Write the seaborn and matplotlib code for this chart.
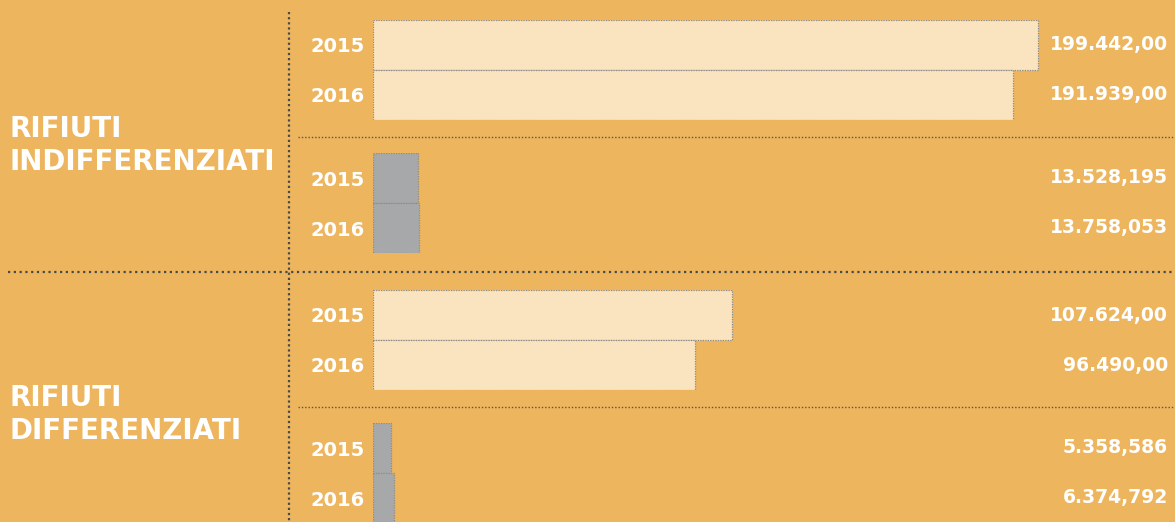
import matplotlib
matplotlib.use("Agg")
import matplotlib.pyplot as plt
import matplotlib.transforms as mtransforms
from matplotlib.lines import Line2D
import seaborn as sns
import pandas as pd

# ---- data -------------------------------------------------------------
years = ["2015", "2016"]
indiff_total = [199442.00, 191939.00]
indiff_other = [13528.195, 13758.053]
diff_total = [107624.00, 96490.00]
diff_other = [5358.586, 6374.792]
section_titles = ["RIFIUTI\nINDIFFERENZIATI", "RIFIUTI\nDIFFERENZIATI"]

# ---- style ------------------------------------------------------------
BG = "#EDB55D"
CREAM = "#FAE4C0"
GREY = "#A6A8A9"
DOT = "#4A4A4A"
W, H = 1175, 522

sns.set_theme(style="white")
plt.rcParams["font.family"] = ["DejaVu Sans"]

fig = plt.figure(figsize=(W / 100, H / 100), dpi=100, facecolor=BG)


def fx(px):
    return px / W


def fy(py):
    return 1 - py / H


def it_number(v, dec):
    s = f"{v:,.{dec}f}"
    return s.replace(",", "X").replace(".", ",").replace("X", ".")


XMAX = 240500
groups = [
    (indiff_total, CREAM, 2, 20),
    (indiff_other, GREY, 3, 153),
    (diff_total, CREAM, 2, 290),
    (diff_other, GREY, 3, 423),
]

for values, color, dec, top in groups:
    ax = fig.add_axes([fx(373), fy(top + 100), fx(W) - fx(373), 100 / H])
    ax.set_facecolor("none")
    df = pd.DataFrame({"anno": years, "valore": values})
    sns.barplot(data=df, x="valore", y="anno", order=years, orient="h",
                color=color, width=1.0, saturation=1, ax=ax,
                edgecolor="#8C8C8C", linewidth=0.9, linestyle=(0, (1, 1)))
    ax.set_xlim(0, XMAX)
    ax.set_ylim(1.5, -0.5)
    for s in ax.spines.values():
        s.set_visible(False)
    ax.set_xticks([])
    ax.set_xlabel("")
    ax.set_ylabel("")
    ax.tick_params(axis="y", length=0, pad=6, labelcolor="white", labelsize=14)
    for lab in ax.get_yticklabels():
        lab.set_fontweight("bold")
    trans = mtransforms.blended_transform_factory(fig.transFigure, ax.transData)
    for i, v in enumerate(values):
        ax.text(fx(1168), i, it_number(v, dec), transform=trans,
                ha="right", va="center", color="white",
                fontsize=13.5, fontweight="bold")

# ---- section titles ---------------------------------------------------
for title, top in zip(section_titles, [115, 384]):
    fig.text(fx(10), fy(top), title, ha="left", va="top", color="white",
             fontsize=20, fontweight="bold", linespacing=1.22)

# ---- dotted rules -----------------------------------------------------
fig.add_artist(Line2D([fx(289), fx(289)], [fy(12), fy(522)],
                      transform=fig.transFigure, color=DOT, lw=1.6,
                      linestyle=(0, (1, 1.3))))
fig.add_artist(Line2D([fx(8), fx(1175)], [fy(272), fy(272)],
                      transform=fig.transFigure, color=DOT, lw=1.6,
                      linestyle=(0, (1, 1.6))))
for yy in (137, 407):
    fig.add_artist(Line2D([fx(298), fx(1175)], [fy(yy), fy(yy)],
                          transform=fig.transFigure, color="#5A5550", lw=1.0,
                          linestyle=(0, (1, 1.4))))

fig.savefig("out.png", dpi=100, facecolor=BG)
